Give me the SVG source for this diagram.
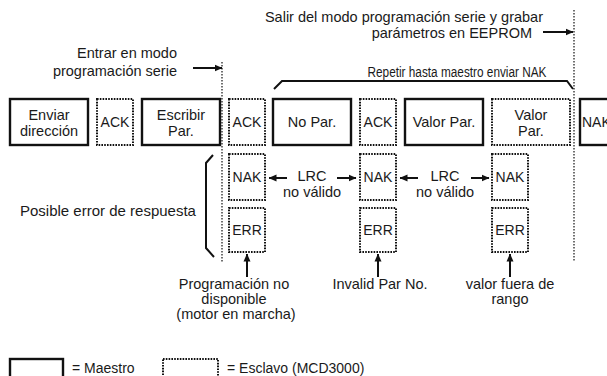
<svg xmlns="http://www.w3.org/2000/svg" width="607" height="376" viewBox="0 0 607 376">
<defs>
<marker id="ah" viewBox="0 0 8 8" refX="7.5" refY="4" markerWidth="8" markerHeight="8" markerUnits="userSpaceOnUse" orient="auto"><path d="M0,0.5 L8,4 L0,7.5 z" fill="#111"/></marker>
</defs>
<style>
text{font-family:"Liberation Sans",Arial,sans-serif;font-size:14.5px;fill:#1a1a1a}
.c{text-anchor:middle}
.e{text-anchor:end}
.cap{font-size:14px}
.m{fill:#fff;stroke:#111;stroke-width:2.4}
.s{fill:#fff;stroke:#111;stroke-width:2;stroke-dasharray:1.6 1.2}
.ar{stroke:#111;stroke-width:2;fill:none;marker-end:url(#ah)}
.br{stroke:#111;stroke-width:2;fill:none}
.vd{stroke:#111;stroke-width:1.2;stroke-dasharray:1.5 1.5;fill:none}
</style>
<rect width="607" height="376" fill="#fff"/>

<g id="connectors">
<line class="vd" x1="222" y1="62" x2="222" y2="263"/>
<line class="vd" x1="574" y1="10" x2="574" y2="262"/>
<line class="ar" x1="193" y1="68" x2="222" y2="68"/>
<line class="ar" x1="543" y1="32" x2="573" y2="32"/>
<path class="br" d="M274,89 L282,81 L567,81 L573,89"/>
<path class="br" d="M213,155 L206,163 L206,248 L214,257"/>
<line class="ar" x1="287" y1="178" x2="269" y2="178"/>
<line class="ar" x1="337" y1="178" x2="356" y2="178"/>
<line class="ar" x1="418" y1="178" x2="400" y2="178"/>
<line class="ar" x1="471" y1="178" x2="489" y2="178"/>
<line class="ar" x1="247" y1="277" x2="247" y2="254"/>
<line class="ar" x1="378" y1="277" x2="378" y2="254"/>
<line class="ar" x1="510" y1="277" x2="510" y2="254"/>
</g>

<g id="labels">
<text class="e" x="177" y="58">Entrar en modo</text>
<text class="e" x="177" y="76">programación serie</text>
<text class="e" x="543" y="22">Salir del modo programación serie y grabar</text>
<text class="e" x="532" y="38">parámetros en EEPROM</text>
<text class="c" x="457" y="77" style="font-size:14px" textLength="179" lengthAdjust="spacingAndGlyphs">Repetir hasta maestro enviar NAK</text>
<text x="20" y="216" style="font-size:15px">Posible error de respuesta</text>
<text class="c" x="312" y="181">LRC</text>
<text class="c" x="312" y="197">no válido</text>
<text class="c" x="445" y="181">LRC</text>
<text class="c" x="445" y="197">no válido</text>
<text class="c" x="234" y="289">Programación no</text>
<text class="c" x="234" y="304">disponible</text>
<text class="c" x="236" y="319">(motor en marcha)</text>
<text class="c" x="380" y="289">Invalid Par No.</text>
<text class="c" x="510" y="289">valor fuera de</text>
<text class="c" x="510" y="304">rango</text>
</g>

<g id="n-enviar"><rect class="m" x="10" y="99" width="78" height="46"/><text class="c" x="49" y="120">Enviar</text><text class="c" x="49" y="136">dirección</text></g>
<g id="n-ack1"><rect class="s" x="97" y="99" width="36" height="46"/><text class="c cap" x="115" y="127">ACK</text></g>
<g id="n-escribir"><rect class="m" x="142" y="99" width="78" height="46"/><text class="c" x="181" y="120">Escribir</text><text class="c" x="181" y="136">Par.</text></g>
<g id="n-ack2"><rect class="s" x="229" y="99" width="36" height="46"/><text class="c cap" x="247" y="127">ACK</text></g>
<g id="n-nopar"><rect class="m" x="273" y="99" width="78" height="46"/><text class="c" x="312" y="127">No Par.</text></g>
<g id="n-ack3"><rect class="s" x="360" y="99" width="36" height="46"/><text class="c cap" x="378" y="127">ACK</text></g>
<g id="n-valorpar"><rect class="m" x="405" y="99" width="78" height="46"/><text class="c" x="444" y="127">Valor Par.</text></g>
<g id="n-valorpar-s"><rect class="s" x="492" y="99" width="78" height="46"/><text class="c" x="531" y="120">Valor</text><text class="c" x="531" y="136">Par.</text></g>
<g id="n-nak-end"><rect class="m" x="580" y="99" width="40" height="46"/><text class="cap" x="582" y="127">NAK</text></g>

<g id="n-nak1"><rect class="s" x="229" y="154" width="36" height="46"/><text class="c cap" x="247" y="182">NAK</text></g>
<g id="n-nak2"><rect class="s" x="360" y="154" width="36" height="46"/><text class="c cap" x="378" y="182">NAK</text></g>
<g id="n-nak3"><rect class="s" x="492" y="154" width="36" height="46"/><text class="c cap" x="510" y="182">NAK</text></g>
<g id="n-err1"><rect class="s" x="229" y="208" width="36" height="44"/><text class="c cap" x="247" y="235">ERR</text></g>
<g id="n-err2"><rect class="s" x="360" y="208" width="36" height="44"/><text class="c cap" x="378" y="235">ERR</text></g>
<g id="n-err3"><rect class="s" x="492" y="208" width="36" height="44"/><text class="c cap" x="510" y="235">ERR</text></g>

<g id="legend">
<rect class="m" x="10" y="359" width="53" height="30"/>
<text x="72" y="373" style="font-size:14px">= Maestro</text>
<rect class="s" x="163" y="359" width="55" height="30"/>
<text x="227" y="373" style="font-size:14px">= Esclavo (MCD3000)</text>
</g>
</svg>
